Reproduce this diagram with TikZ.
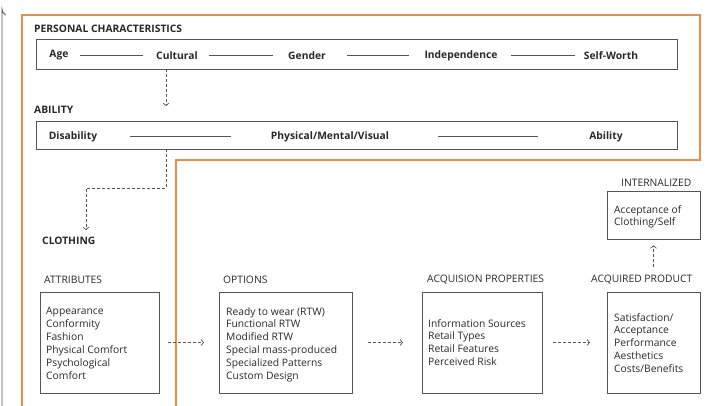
\documentclass[tikz,border=0pt]{standalone}
\usepackage{fontspec}
\setmainfont{Open Sans}
\usetikzlibrary{arrows.meta,calc}
\definecolor{orng}{RGB}{236,142,74}
\definecolor{ink}{RGB}{40,40,40}
\definecolor{frm}{RGB}{85,85,85}
\begin{document}
\begin{tikzpicture}[x=1pt,y=-1pt,
  head/.style={font=\fontsize{10.3}{12}\selectfont\bfseries, text=ink, anchor=west, inner sep=0pt, yshift=-1.5pt},
  item/.style={font=\fontsize{10.3}{12}\selectfont\bfseries, text=ink, inner sep=0pt, yshift=-1.5pt},
  sub/.style={font=\fontsize{10.3}{12}\selectfont, text=ink, anchor=west, inner sep=0pt, yshift=-1.5pt},
  panel/.style={draw=frm, line width=0.8pt, inner sep=0pt},
  list/.style={font=\fontsize{10.3}{12.9}\selectfont, text=ink, align=left, anchor=north west, inner sep=0pt},
  link/.style={draw=frm, line width=0.7pt},
  flow/.style={draw=frm, line width=0.7pt, dash pattern=on 3pt off 2pt, -{Straight Barb[length=2.5pt,width=6pt]}}
]
\useasboundingbox (0,0) rectangle (719,406);
% outer frame (left edge)
\draw[frm, line width=0.8pt] (2,406) -- (2,9) arc[start angle=180, end angle=120, radius=7];
% orange outline
\draw[orng, line width=1.6pt, line join=miter] (22,410) -- (22,15) -- (700,15) -- (700,160) -- (176,160) -- (176,410);

% Personal characteristics
\node[head] (pchead) at (34,27) {PERSONAL CHARACTERISTICS};
\node[panel, minimum width=641pt, minimum height=30pt] (pcbox) at (356.5,54) {};
\node[item] (age) at (59,54) {Age};
\node[item] (cult) at (177,54) {Cultural};
\node[item] (gend) at (307,54) {Gender};
\node[item] (indep) at (461,54) {Independence};
\node[item] (self) at (611,54) {Self-Worth};
\draw[link, shorten <=21pt, shorten >=34pt] (age.center) -- (cult.center);
\draw[link, shorten <=32pt, shorten >=34pt] (cult.center) -- (gend.center);
\draw[link, shorten <=40pt, shorten >=52pt] (gend.center) -- (indep.center);
\draw[link, shorten <=50pt, shorten >=36pt] (indep.center) -- (self.center);

% Ability
\node[head] (abhead) at (34,108) {ABILITY};
\node[panel, minimum width=641pt, minimum height=28pt] (abox) at (356.5,135) {};
\node[item] (dis) at (73,135) {Disability};
\node[item] (pmv) at (330,135) {Physical/Mental/Visual};
\node[item] (abil) at (606,135) {Ability};
\draw[link, shorten <=57pt, shorten >=99pt] (dis.center) -- (pmv.center);
\draw[link, shorten <=108pt, shorten >=68pt] (pmv.center) -- (abil.center);

\coordinate (c1) at (166,69);
\coordinate (c2) at (166,106);
\draw[flow] (c1) -- (c2);

% Clothing
\node[head] (clhead) at (42,239) {CLOTHING};
\coordinate (c3) at (166,149);
\coordinate (c4) at (86,230);
\draw[flow] (c3) |- (126,188) -| (c4);

% Attributes
\node[sub] (attrh) at (44,278) {ATTRIBUTES};
\node[panel, minimum width=119pt, minimum height=101pt] (attr) at (99.5,342.5) {};
\node[list] (attrl) at (46,307) {Appearance\\Conformity\\Fashion\\Physical Comfort\\Psychological\\Comfort};

% Options
\node[sub] (opth) at (223,278) {OPTIONS};
\node[panel, minimum width=133pt, minimum height=101pt] (opt) at (285.5,342.5) {};
\node[list] (optl) at (226,307) {Ready to wear (RTW)\\Functional RTW\\Modified RTW\\Special mass-produced\\Specialized Patterns\\Custom Design};

% Acquisition properties
\node[sub] (acqh) at (427,278) {ACQUISION PROPERTIES};
\node[panel, minimum width=120pt, minimum height=101pt] (acq) at (482,342.5) {};
\node[list] (acql) at (428,319) {Information Sources\\Retail Types\\Retail Features\\Perceived Risk};

% Acquired product
\node[sub] (prodh) at (591,278) {ACQUIRED PRODUCT};
\node[panel, minimum width=93pt, minimum height=101pt] (prod) at (653.5,342.5) {};
\node[list] (prodl) at (614,313) {Satisfaction/\\Acceptance\\Performance\\Aesthetics\\Costs/Benefits};

% Internalized
\node[sub] (inth) at (621,181) {INTERNALIZED};
\node[panel, minimum width=93pt, minimum height=48pt] (intb) at (653.5,215) {};
\node[list] (intl) at (614,205) {Acceptance of\\Clothing/Self};

% flow arrows
\draw[flow, shorten <=68.5pt, shorten >=81.5pt] (attr.center) -- (opt.center);
\draw[flow, shorten <=82.5pt, shorten >=79pt] (opt.center) -- (acq.center);
\draw[flow, shorten <=71pt, shorten >=63.5pt] (acq.center) -- (prod.center);
\draw[flow, shorten <=8pt, shorten >=6pt] (prodh.north -| intb) -- (intb.south);
\end{tikzpicture}
\end{document}
